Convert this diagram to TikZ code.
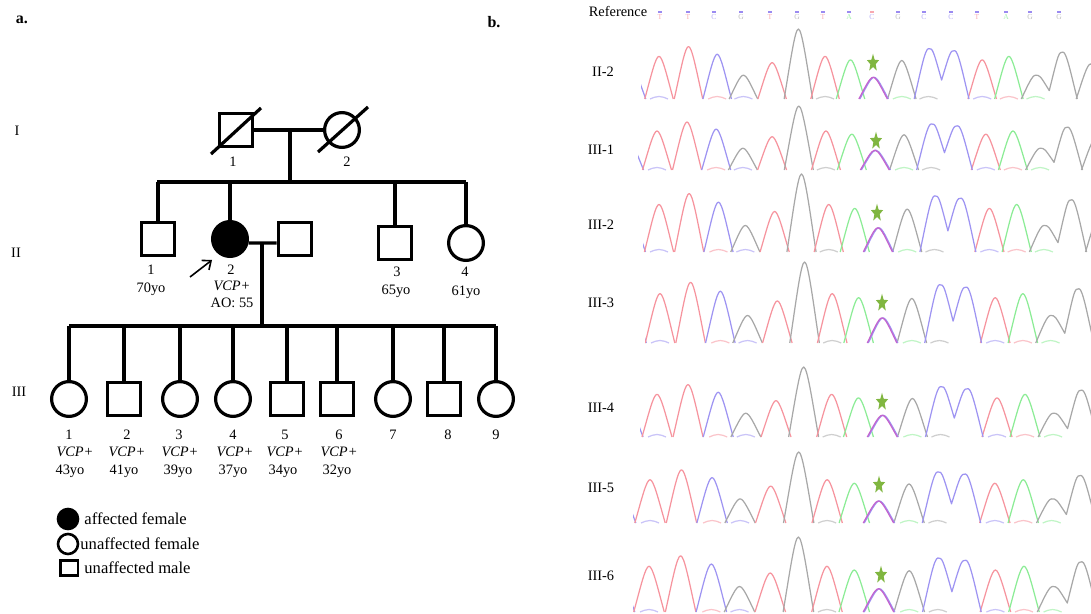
\documentclass[tikz,border=0pt]{standalone}
\usepackage{fontspec}
\setmainfont{Liberation Serif}
\usetikzlibrary{shapes.geometric,arrows.meta,calc}

\definecolor{tRed}{RGB}{246,148,158}
\definecolor{tBlue}{RGB}{158,148,242}
\definecolor{tGreen}{RGB}{140,236,150}
\definecolor{tGray}{RGB}{168,168,168}
\definecolor{tHet}{RGB}{196,100,206}
\definecolor{tMark}{RGB}{130,110,238}
\definecolor{starG}{RGB}{128,182,64}

% one peak: #1 centre x, #2 baseline y, #3 height, #4 half width
\newcommand\peakpath[4]{({#1-#4},#2) .. controls ({#1-0.55*#4},{#2-0.55*#3}) and ({#1-0.24*#4},{#2-#3}) .. (#1,{#2-#3})
  .. controls ({#1+0.24*#4},{#2-#3}) and ({#1+0.55*#4},{#2-0.55*#3}) .. ({#1+#4},#2)}

% one sequencing trace: #1 first peak x, #2 span to last peak, #3 baseline y,
% #4 height of tallest peak, #5 left clip edge
\newcommand\chromtrace[5]{%
  \begin{scope}
    \clip (#5,#3-#4-6) rectangle (1091,#3+2);
    \pgfmathsetmacro\hw{14.5*#2/411}
    % faint secondary signal along the baseline
    \foreach \p/\c in {0/tBlue,.144/tRed,.209/tBlue,.411/tGray,.601/tGreen,.667/tGray,.800/tBlue,.866/tRed,.932/tGreen}{
      \pgfmathsetmacro\cx{#1+\p*#2}
      \draw[trace,\c,opacity=.55] ({\cx-9},#3) sin (\cx,#3-2.5) cos ({\cx+9},#3);
    }
    % single peaks
    \foreach \p/\h/\c in {-.068/.45/tBlue,0/.61/tRed,.073/.75/tRed,.144/.64/tBlue,.209/.34/tGray,.280/.52/tRed,.345/1/tGray,.411/.61/tRed,.474/.56/tGreen,.601/.55/tGray,.800/.56/tRed,.866/.61/tGreen,1.068/.5/tGray}{
      \pgfmathsetmacro\cx{#1+\p*#2}
      \pgfmathsetmacro\ch{\h*#4}
      \draw[trace,\c] \peakpath{\cx}{#3}{\ch}{\hw};
    }
    % C/T heterozygous peak
    \pgfmathsetmacro\hx{#1+.530*#2}
    \pgfmathsetmacro\hxb{\hx+1}
    \pgfmathsetmacro\hh{.31*#4}
    \draw[trace,tBlue] \peakpath{\hxb}{#3}{\hh}{\hw};
    \draw[trace,tHet] \peakpath{\hx}{#3}{\hh}{\hw};
    % C C pair
    \pgfmathsetmacro\ba{#1+.667*#2}
    \pgfmathsetmacro\bb{#1+.732*#2}
    \draw[trace,tBlue] ({\ba-\hw},#3) .. controls ({\ba-0.55*\hw},{#3-0.4*#4}) and ({\ba-0.24*\hw},{#3-.72*#4}) .. (\ba,{#3-.72*#4})
      .. controls ({\ba+0.3*\hw},{#3-.72*#4}) .. ({(\ba+\bb)/2},{#3-.27*#4})
      .. controls ({\bb-0.3*\hw},{#3-.69*#4}) .. (\bb,{#3-.69*#4})
      .. controls ({\bb+0.24*\hw},{#3-.69*#4}) and ({\bb+0.55*\hw},{#3-0.38*#4}) .. ({\bb+\hw},#3);
    % G G pair
    \pgfmathsetmacro\ga{#1+.932*#2}
    \pgfmathsetmacro\gb{#1+#2}
    \draw[trace,tGray] ({\ga-\hw},#3) .. controls ({\ga-0.55*\hw},{#3-0.19*#4}) and ({\ga-0.24*\hw},{#3-.34*#4}) .. (\ga,{#3-.34*#4})
      .. controls ({\ga+0.3*\hw},{#3-.34*#4}) .. ({(\ga+\gb)/2},{#3-.12*#4})
      .. controls ({\gb-0.3*\hw},{#3-.67*#4}) .. (\gb,{#3-.67*#4})
      .. controls ({\gb+0.24*\hw},{#3-.67*#4}) and ({\gb+0.55*\hw},{#3-0.37*#4}) .. ({\gb+\hw},#3);
  \end{scope}%
}

% star over the variant: #1 name, #2 x, #3 y
\newcommand\hetstar[3]{%
  \begin{scope}[shift={(#2,#3)},yscale=1.45]
    \node[hstar,transform shape] (#1) at (0,0) {};
  \end{scope}%
}

\begin{document}
\begin{tikzpicture}[x=0.5pt,y=-0.5pt,
  pline/.style={line width=1.6pt},
  male/.style={draw,line width=1.6pt,rectangle,minimum size=16.8pt,inner sep=0pt},
  female/.style={draw,line width=1.6pt,circle,minimum size=17.4pt,inner sep=0pt},
  lbl/.style={font=\fontsize{7.2}{8}\selectfont,inner sep=0pt},
  vcp/.style={font=\fontsize{7.2}{8}\selectfont\itshape,inner sep=0pt},
  panel/.style={font=\fontsize{8}{9}\selectfont\bfseries,inner sep=0pt},
  legtxt/.style={font=\fontsize{8.3}{9}\selectfont,anchor=west,inner sep=0pt},
  trace/.style={line width=0.62pt,line join=round},
  reflet/.style={font=\fontsize{3.8}{4}\selectfont,inner sep=0pt,opacity=.75},
  hstar/.style={star,star points=5,star point ratio=2.3,fill=starG,draw=none,minimum size=6.4pt,inner sep=0pt}]
\useasboundingbox (0,0) rectangle (1091,614);

% ---------- panel a: pedigree ----------
\node[panel] (pa-lbl) at (22,20) {a.};
\node[lbl] (gI) at (17,131) {I};
\node[lbl] (gII) at (16,253) {II};
\node[lbl] (gIII) at (19,392) {III};

% generation I
\node[male] (I1) at (236,130) {};
\node[female] (I2) at (342,130) {};
\draw[pline] ($(I1)+(-25,24)$) -- ($(I1)+(25,-22)$);
\draw[pline] ($(I2)+(-24,22)$) -- ($(I2)+(26,-23)$);
\draw[pline] (I1.east) -- (I2.west);
\coordinate (m1) at (290,130);
\coordinate (s1) at (290,182);
\draw[pline] (m1) -- (s1);
\node[lbl] (I1n) at (233,162) {1};
\node[lbl] (I2n) at (347,162) {2};

% generation II
\node[male] (II1) at (158,239) {};
\node[female,fill=black] (II2) at (230,239) {};
\node[male] (sp) at (295,239) {};
\node[male] (II3) at (395,243) {};
\node[female] (II4) at (466,243) {};
\coordinate (s1L) at (157,182);
\coordinate (s1R) at (466,182);
\draw[pline] (s1L) -- (s1R);
\draw[pline] (II1.north |- s1L) -- (II1.north);
\draw[pline] (II2.north |- s1L) -- (II2.north);
\draw[pline] (II3.north |- s1L) -- (II3.north);
\draw[pline] (II4.north |- s1L) -- (II4.north);
\coordinate (m2) at (262,243);
\coordinate (s2) at (262,326);
\draw[pline] (II2.-12) -- (sp.west |- m2);
\draw[pline] (m2) -- (s2);
\coordinate (pa) at (190,277);
\draw[line width=0.8pt,-{Straight Barb[length=3.6pt,width=6pt]}] (pa) -- ($(II2)+(-18,21)$);
\node[lbl] (II1n) at (151,270) {1};
\node[lbl] (II1a) at (151,289) {70yo};
\node[lbl] (II2n) at (231,270) {2};
\node[vcp] (II2v) at (232,286) {VCP+};
\node[lbl] (II2o) at (232,303) {AO: 55};
\node[lbl] (II3n) at (397,272) {3};
\node[lbl] (II3a) at (396,291) {65yo};
\node[lbl] (II4n) at (465,272) {4};
\node[lbl] (II4a) at (466,292) {61yo};

% generation III
\coordinate (s2L) at (69,326);
\coordinate (s2R) at (496,326);
\draw[pline] (s2L) -- (s2R);
\foreach \n/\x/\kind in {1/69/female,2/124/male,3/180/female,4/233/female,5/287/male,6/337/male,7/393/female,8/444/male,9/496/female}{
  \node[\kind] (III\n) at (\x,399) {};
  \draw[pline] (III\n.north |- s2L) -- (III\n.north);
}
\foreach \n/\x in {1/69,2/127,3/179,4/233,5/285,6/339,7/393,8/448,9/496}{
  \node[lbl] (III\n n) at (\x,435) {\n};
}
\foreach \n/\x in {1/75,2/127,3/180,4/235,5/285,6/339}{
  \node[vcp] (III\n v) at (\x,452) {VCP+};
}
\foreach \n/\x/\a in {1/70/43,2/124/41,3/178/39,4/233/37,5/283/34,6/337/32}{
  \node[lbl] (III\n a) at (\x,471) {\a yo};
}

% legend
\node[female,fill=black,minimum size=10pt,line width=1.3pt] (lg1) at (68,519) {};
\node[female,minimum size=10pt,line width=1.3pt] (lg2) at (68,544) {};
\node[draw,rectangle,line width=1.3pt,minimum width=8.8pt,minimum height=7.6pt,inner sep=0pt] (lg3) at (69,568) {};
\node[legtxt] (lg1t) at (84,519) {affected female};
\node[legtxt] (lg2t) at (80,544) {unaffected female};
\node[legtxt] (lg3t) at (84,568) {unaffected male};

% ---------- panel b: sequencing traces ----------
\node[panel] (pb-lbl) at (494,22) {b.};
\node[lbl] (rref) at (618,12) {Reference};
\foreach \x/\b/\c/\m [count=\i] in {660/T/tRed/tMark,688/T/tRed/tMark,714/C/tBlue/tMark,741/G/tGray/tMark,
    770/T/tRed/tMark,797/G/tGray/tMark,823/T/tRed/tMark,849/A/tGreen/tMark,872/C/tBlue/tRed,898/G/tGray/tMark,
    924/C/tBlue/tMark,951/C/tBlue/tMark,977/T/tRed/tMark,1006/A/tGreen/tMark,1030/G/tGray/tMark,1059/G/tGray/tMark}{
  \fill[\m,opacity=.8] (\x-2,11) rectangle (\x+2,12.8);
  \node[reflet,text=\c] (ref\i) at (\x,16.8) {\b};
}

\node[lbl] (r1) at (603,72) {II-2};
\node[lbl] (r2) at (601,150) {III-1};
\node[lbl] (r3) at (601,225) {III-2};
\node[lbl] (r4) at (601,303) {III-3};
\node[lbl] (r5) at (601,408) {III-4};
\node[lbl] (r6) at (601,488) {III-5};
\node[lbl] (r7) at (601,576) {III-6};

\chromtrace{659}{404}{99}{70}{641}
\chromtrace{657}{411}{170}{64}{638}
\chromtrace{659}{413}{252}{78}{643}
\chromtrace{660}{419}{343}{81}{645}
\chromtrace{657}{425}{437}{70}{640}
\chromtrace{650}{431}{523}{71}{633}
\chromtrace{649}{433}{612}{75}{633}

\hetstar{st1}{873}{63}
\hetstar{st2}{876}{141}
\hetstar{st3}{877}{213}
\hetstar{st4}{882}{303}
\hetstar{st5}{882}{402}
\hetstar{st6}{879}{485}
\hetstar{st7}{881}{575}
\end{tikzpicture}
\end{document}
